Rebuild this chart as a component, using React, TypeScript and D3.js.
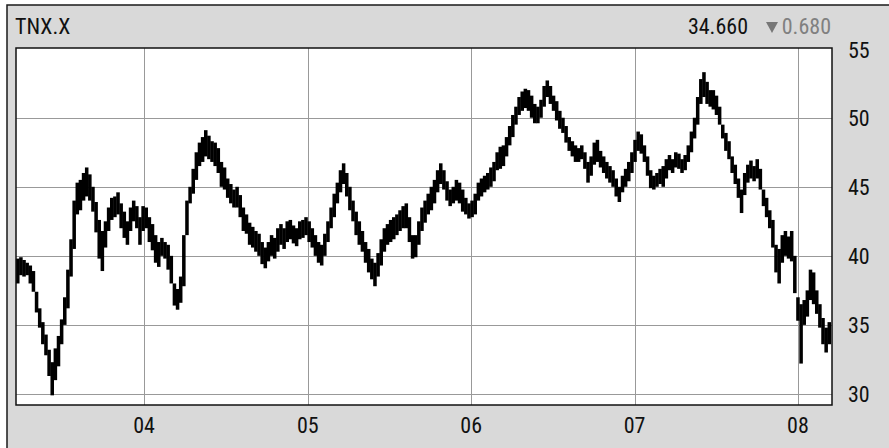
import React from 'react';
import * as d3 from 'd3';

const symbol = 'TNX.X';
const lastValue = '34.660';
const changeValue = '0.680';
const yTicks = [30, 35, 40, 45, 50, 55];
const xTickYears = [2004, 2005, 2006, 2007, 2008];
const xTickLabels = ['04', '05', '06', '07', '08'];
const domainStart = '2003-03-21';
const domainEnd = '2008-03-17';
const firstWeek = '2003-03-21';

// weekly highs / lows (yield x10)
const highs = [
  39.8, 39.9, 39.7, 39.5, 39.3, 38.9, 37.4, 36.2, 35.2, 34.3, 33.2, 32.3, 33.3, 34.2, 35.4, 37.0, 39.0, 41.2,
  44.0, 45.3, 45.5, 46.0, 46.4, 45.9, 45.0, 43.9, 42.6, 41.8,
  42.5, 43.5, 44.2, 44.3, 44.6, 43.8, 43.2, 42.5, 43.5, 44.0, 43.6, 42.8, 43.6, 43.5,
  42.8, 42.3, 41.5, 41.0, 41.3, 41.0, 40.8, 40.0, 38.0, 37.6, 38.5,
  41.5, 44.0, 45.0, 46.3, 47.5, 48.2, 48.6, 49.1, 48.7, 48.3, 48.2, 47.8, 46.8, 46.4,
  45.6, 45.2, 44.8, 45.0, 44.4, 43.5, 43.0, 42.4, 42.1, 41.8, 41.6, 41.0, 40.6, 41.0, 41.5, 41.3, 42.0, 42.3, 42.0, 42.5, 42.6, 42.2, 42.0, 42.5, 42.6,
  42.8, 42.5, 42.0, 41.5, 41.0, 40.8, 41.6, 42.5, 43.5, 44.5, 45.3, 46.2, 46.7, 46.0, 45.0, 44.0, 43.2, 42.5, 41.8, 41.0,
  40.5, 39.8, 39.5, 40.2, 41.2, 42.0, 42.3, 42.6, 42.8, 43.0, 43.3, 43.6, 43.8, 42.8, 41.5, 41.5, 42.5,
  43.5, 44.0, 44.5, 45.0, 45.5, 46.2, 46.7, 46.2, 45.4, 44.8,
  45.0, 45.5, 45.3, 44.8, 44.2, 43.8, 44.0, 44.5, 45.3, 45.6,
  45.8, 46.0, 46.4, 46.8, 47.5, 47.9, 48.0, 48.6, 49.4, 50.2,
  50.8, 51.5, 51.9, 52.1, 52.0, 51.6, 51.0, 50.8, 51.3, 52.3,
  52.7, 52.3, 51.6, 51.2, 50.5, 50.0, 49.4, 48.6, 48.3, 48.0,
  47.8, 48.0, 47.5, 46.8, 47.2, 48.2, 48.4, 47.6, 47.2, 46.8,
  46.5, 46.2, 45.6, 45.0, 45.8, 46.3, 46.8, 47.5, 48.4, 49.0,
  48.8, 48.0,
  47.2, 46.2, 45.8, 46.0, 46.3, 46.5, 47.0, 47.3, 47.0, 47.5, 47.4, 47.0, 47.3, 48.0, 49.0, 50.0, 51.5, 52.8, 53.3, 52.6, 52.0, 52.0,
  51.6, 50.8, 49.5, 48.9, 48.3, 47.2, 46.6, 45.6, 44.8, 46.0, 46.6, 46.9, 46.5, 47.0, 46.3, 44.8, 44.2, 43.3, 42.6, 40.8,
  40.5, 41.5, 41.8, 41.4, 41.8, 40.0, 37.0, 36.5, 36.8, 37.5, 39.0, 38.8, 37.5, 36.5, 35.5, 34.8, 35.2,
];

const lows = [
  38.0, 38.6, 38.5, 38.6, 38.0, 37.4, 35.9, 34.8, 33.6, 32.8, 31.3, 29.9, 31.0, 32.0, 33.6, 35.0, 36.2, 38.5,
  40.5, 43.0, 43.3, 44.0, 44.3, 44.0, 43.2, 41.7, 39.8, 38.9,
  40.6, 41.8, 42.6, 42.8, 43.0, 42.0, 41.3, 40.8, 41.8, 42.5, 42.0, 40.8, 41.8, 42.0,
  41.0, 40.4, 39.5, 39.2, 40.0, 39.8, 39.0, 38.0, 36.4, 36.1, 36.6,
  37.8, 41.5, 43.8, 44.5, 45.5, 46.5, 46.8, 47.2, 47.0, 46.8, 46.5, 46.0, 45.0, 44.8,
  44.2, 43.8, 43.5, 43.5, 42.8, 41.8, 41.6, 40.8, 40.6, 40.3, 40.0, 39.4, 39.1, 39.6, 40.0, 39.8, 40.3, 40.8, 40.5, 41.0, 41.2, 40.9, 40.7, 41.2, 41.3,
  41.5, 41.0, 40.6, 40.0, 39.5, 39.3, 40.0, 41.0, 42.0, 42.8, 43.8, 44.6, 45.2, 44.3, 43.3, 42.5, 41.5, 40.8, 40.3, 39.5,
  38.8, 38.3, 37.8, 38.5, 39.3, 40.3, 40.8, 41.0, 41.2, 41.5, 41.8, 42.0, 42.0, 41.0, 39.8, 39.9, 40.8,
  41.8, 42.4, 43.0, 43.3, 43.8, 44.6, 45.2, 44.8, 44.0, 43.6,
  43.8, 44.0, 43.8, 43.2, 43.0, 42.7, 42.8, 43.0, 44.0, 44.3,
  44.6, 44.8, 45.0, 45.4, 46.2, 46.3, 46.5, 47.2, 48.0, 48.6,
  49.5, 50.2, 50.5, 50.7, 50.5, 50.0, 49.6, 49.6, 50.0, 50.8,
  51.5, 51.0, 50.5, 49.8, 49.2, 48.9, 48.2, 47.6, 47.2, 46.8,
  46.8, 47.0, 46.3, 45.3, 45.8, 46.6, 46.8, 46.4, 46.0, 45.6,
  45.3, 45.0, 44.3, 43.9, 44.6, 45.0, 45.4, 46.0, 46.8, 47.6,
  47.4, 46.8,
  45.8, 44.9, 44.8, 45.0, 45.2, 45.0, 45.6, 46.2, 46.0, 46.4, 46.3, 46.0, 46.2, 46.8, 47.5, 48.5, 49.5, 51.0, 51.5, 51.0, 50.8, 50.6,
  50.2, 49.5, 48.5, 47.6, 47.0, 46.0, 45.2, 44.2, 43.1, 44.4, 45.3, 45.6, 45.4, 45.6, 44.8, 43.6, 42.8, 42.0, 40.6, 38.8,
  38.0, 39.5, 40.0, 39.8, 39.6, 37.3, 35.3, 32.2, 35.0, 35.6, 36.8, 36.5, 35.8, 34.8, 33.6, 33.0, 33.6,
];

const FONT = "'Liberation Sans Narrow', 'Arial Narrow', 'Roboto Condensed', sans-serif";

export default function App() {
  const W = 889;
  const H = 448;
  const plot = { left: 16, top: 48, right: 832, bottom: 405 };
  const parse = d3.timeParse('%Y-%m-%d');
  const x = d3
    .scaleTime()
    .domain([parse(domainStart) as Date, parse(domainEnd) as Date])
    .range([plot.left, plot.right]);
  const y = d3.scaleLinear().domain([29.2, 55.05]).range([plot.bottom, plot.top]);
  const start = parse(firstWeek) as Date;
  const n = Math.min(highs.length, lows.length);
  const bars = d3.range(n).map((i) => {
    const d0 = d3.timeDay.offset(start, i * 7);
    const d1 = d3.timeDay.offset(d0, 7);
    return { d0, d1, hi: highs[i], lo: lows[i] };
  });

  return (
    <svg
      width={W}
      height={H}
      style={{ position: 'absolute', left: 0, top: 0, display: 'block' }}
      fontFamily={FONT}
    >
      <defs>
        <clipPath id="plotClip">
          <rect x={plot.left} y={plot.top} width={plot.right - plot.left} height={plot.bottom - plot.top} />
        </clipPath>
      </defs>
      <rect x={0} y={0} width={W} height={H} fill="#ffffff" />
      <rect x={7} y={5} width={W + 20} height={H + 20} fill="#d9d9d9" stroke="#1a1a1a" strokeWidth={1.5} />
      <rect x={plot.left} y={plot.top} width={plot.right - plot.left} height={plot.bottom - plot.top} fill="#ffffff" />
      {/* grid */}
      {yTicks
        .filter((t) => y(t) > plot.top + 2 && y(t) < plot.bottom - 2)
        .map((t) => (
          <line key={'gy' + t} x1={plot.left} x2={plot.right} y1={Math.round(y(t)) + 0.5} y2={Math.round(y(t)) + 0.5} stroke="#999" strokeWidth={1} />
        ))}
      {xTickYears.map((yr) => {
        const xx = Math.round(x(new Date(yr, 0, 1))) + 0.5;
        return <line key={'gx' + yr} x1={xx} x2={xx} y1={plot.top} y2={plot.bottom} stroke="#999" strokeWidth={1} />;
      })}
      {/* bars */}
      <g clipPath="url(#plotClip)">
        {bars.map((b, i) => {
          const x0 = x(b.d0);
          const x1 = x(b.d1);
          const yh = y(b.hi);
          const yl = y(b.lo);
          return <rect key={i} x={x0} y={yh} width={x1 - x0 + 0.4} height={Math.max(1, yl - yh)} fill="#000" />;
        })}
      </g>
      <rect x={plot.left} y={plot.top} width={plot.right - plot.left} height={plot.bottom - plot.top} fill="none" stroke="#111" strokeWidth={1.5} />
      {/* y labels */}
      {yTicks.map((t) => {
        const base = Math.max(58, Math.min(408, y(t) + 8.5));
        return (
          <text key={'yl' + t} x={848} y={base} fontSize={22} fill="#111">
            {t}
          </text>
        );
      })}
      {/* x labels */}
      {xTickYears.map((yr, i) => (
        <text key={'xl' + yr} x={x(new Date(yr, 0, 1))} y={433} fontSize={22} fill="#111" textAnchor="middle">
          {xTickLabels[i]}
        </text>
      ))}
      {/* header */}
      <text x={15} y={34} fontSize={22} fill="#111">
        {symbol}
      </text>
      <text x={748} y={34} fontSize={22} fill="#111" textAnchor="end">
        {lastValue}
      </text>
      <path d="M766,22 L778,22 L772,33 Z" fill="#777" />
      <text x={831} y={34} fontSize={22} fill="#808080" textAnchor="end">
        {changeValue}
      </text>
    </svg>
  );
}
